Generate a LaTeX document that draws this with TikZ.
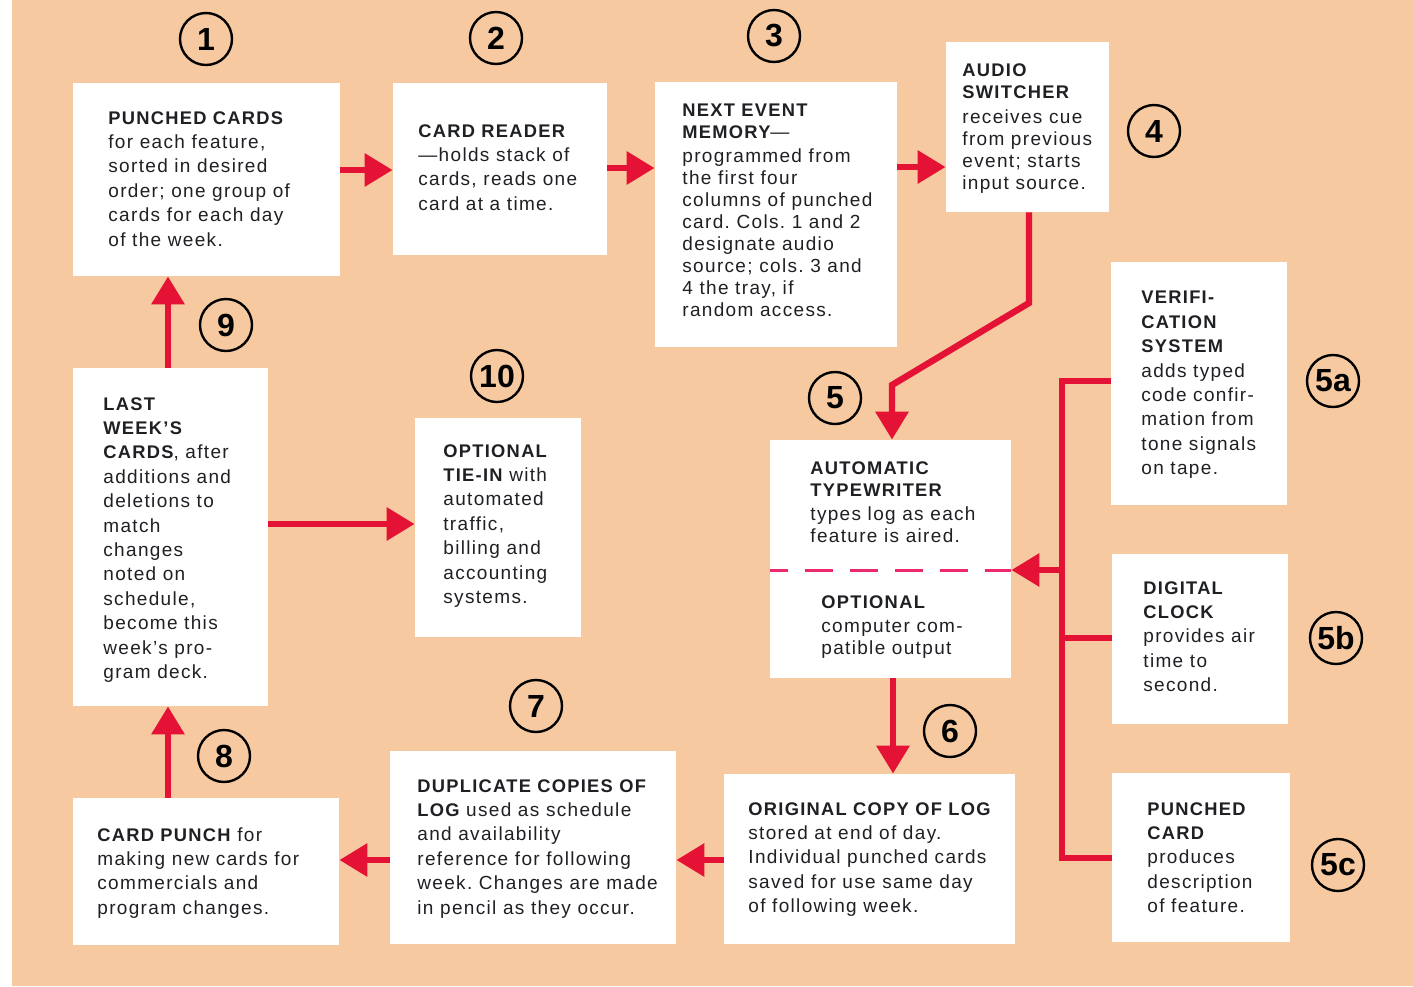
\documentclass[tikz,border=0pt]{standalone}
\usepackage{fontspec}
\setmainfont{Liberation Sans}[LetterSpace=7]
\newfontfamily\numfont{Liberation Sans}
\usetikzlibrary{arrows.meta,fit}
\definecolor{peach}{RGB}{247,201,160}
\definecolor{redarrow}{RGB}{228,18,52}
\definecolor{ink}{RGB}{30,32,36}
\definecolor{dashpink}{RGB}{236,40,110}
\newcommand\hdg[1]{{\fontsize{9.15}{0}\bfseries #1}}
\begin{document}
\frenchspacing
\begin{tikzpicture}[x=0.5pt,y=-0.5pt,
 box/.style={fill=white, draw=none, inner sep=0pt},
 txt/.style={anchor=north west, inner sep=0pt, align=left, text=ink, font=\fontsize{9.5}{12.2}\selectfont\frenchspacing},
 tight/.style={font=\fontsize{9.5}{11}\selectfont\frenchspacing},
 num/.style={circle, draw=black, line width=1.2pt, minimum size=26pt, inner sep=0pt, text=black, font=\numfont\bfseries\fontsize{16}{16}\selectfont},
 rline/.style={draw=redarrow, line width=3.2pt},
 rarrow/.style={rline, -{Triangle[length=14pt,width=16pt]}},
]
\useasboundingbox (0,0) rectangle (1413,986);
\fill[white] (0,0) rectangle (1413,986);
\fill[peach] (12,0) rectangle (1413,986);

% boxes
\node[box, fit={(73,83) (340,276)}] (b1) {};
\node[box, fit={(393,83) (607,255)}] (b2) {};
\node[box, fit={(655,82) (897,347)}] (b3) {};
\node[box, fit={(946,42) (1109,212)}] (b4) {};
\node[box, fit={(1111,262) (1287,505)}] (b5a) {};
\node[box, fit={(770,440) (1011,678)}] (b5) {};
\node[box, fit={(1112,554) (1288,724)}] (b5b) {};
\node[box, fit={(1112,773) (1290,942)}] (b5c) {};
\node[box, fit={(415,418) (581,637)}] (b10) {};
\node[box, fit={(73,368) (268,706)}] (b9) {};
\node[box, fit={(73,798) (339,945)}] (b8) {};
\node[box, fit={(390,751) (676,944)}] (b7) {};
\node[box, fit={(724,774) (1015,944)}] (b6) {};

% dashed divider in box 5
\draw[dashpink, line width=1.5pt, dash pattern=on 14pt off 8.5pt, dash phase=5pt] (b5.west |- 0,570) -- (b5.east |- 0,570);

% texts
\node[txt] (t1) at (108,111) {\hdg{PUNCHED CARDS}\\for each feature,\\sorted in desired\\order; one group of\\cards for each day\\of the week.};
\node[txt] (t2) at (418,124) {\hdg{CARD READER}\\—holds stack of\\cards, reads one\\card at a time.};
\node[txt, tight] (t3) at (682,104) {\hdg{NEXT EVENT}\\\hdg{MEMORY}—\\[1pt]programmed from\\the first four\\columns of punched\\card. Cols. 1 and 2\\designate audio\\source; cols. 3 and\\4 the tray, if\\random access.};
\node[txt, tight] (t4) at (962,63) {\hdg{AUDIO}\\\hdg{SWITCHER}\\[1.5pt]receives cue\\from previous\\event; starts\\input source.};
\node[txt] (t5a) at (1141,291) {\hdg{VERIFI-}\\\hdg{CATION}\\\hdg{SYSTEM}\\adds typed\\code confir-\\mation from\\tone signals\\on tape.};
\node[txt, tight] (t5) at (810,461) {\hdg{AUTOMATIC}\\\hdg{TYPEWRITER}\\[1pt]types log as each\\feature is aired.};
\node[txt, tight] (t5o) at (821,595) {\hdg{OPTIONAL}\\[1pt]computer com-\\patible output};
\node[txt] (t5b) at (1143,581) {\hdg{DIGITAL}\\\hdg{CLOCK}\\provides air\\time to\\second.};
\node[txt] (t5c) at (1147,802) {\hdg{PUNCHED}\\\hdg{CARD}\\produces\\description\\of feature.};
\node[txt] (t10) at (443,444) {\hdg{OPTIONAL}\\\hdg{TIE-IN} with\\automated\\traffic,\\billing and\\accounting\\systems.};
\node[txt] (t9) at (103,397) {\hdg{LAST}\\\hdg{WEEK’S}\\\hdg{CARDS}, after\\additions and\\deletions to\\match\\changes\\noted on\\schedule,\\become this\\week’s pro-\\gram deck.};
\node[txt] (t8) at (97,827) {\hdg{CARD PUNCH} for\\making new cards for\\commercials and\\program changes.};
\node[txt] (t7) at (417,779) {\hdg{DUPLICATE COPIES OF}\\\hdg{LOG} used as schedule\\and availability\\reference for following\\week. Changes are made\\in pencil as they occur.};
\node[txt] (t6) at (748,802) {\hdg{ORIGINAL COPY OF LOG}\\stored at end of day.\\Individual punched cards\\saved for use same day\\of following week.};

% number circles
\node[num] (n1) at (206,39) {1};
\node[num] (n2) at (496,38) {2};
\node[num] (n3) at (774,36) {3};
\node[num] (n4) at (1154,131) {4};
\node[num] (n5) at (835,398) {5};
\node[num] (n5a) at (1333,381) {5a};
\node[num] (n5b) at (1336,638) {5b};
\node[num] (n5c) at (1338,865) {5c};
\node[num] (n6) at (950,731) {6};
\node[num] (n7) at (536,706) {7};
\node[num] (n8) at (224,756) {8};
\node[num] (n9) at (226,325) {9};
\node[num] (n10) at (497,376) {10};

% connectors
\draw[rarrow] (b1.east |- 0,170) -- (b2.west |- 0,170);
\draw[rarrow] (b2.east |- 0,168) -- (b3.west |- 0,168);
\draw[rarrow] (b3.east |- 0,167) -- (b4.west |- 0,167);
\coordinate (k1) at (1029,303);
\coordinate (k2) at (892,385);
\draw[rarrow] (b4.south -| k1) -- (k1) -- (k2) -- (b5.north -| k2);
\coordinate (busT) at (1062,381);
\coordinate (busM) at (1062,638);
\coordinate (busB) at (1062,858);
\coordinate (busA) at (1062,570);
\draw[rline] (b5a.west |- busT) -- (busT) -- (busB) -- (b5c.west |- busB);
\draw[rline] (busM) -- (b5b.west |- busM);
\draw[rarrow] (busA) -- (b5.east |- busA);
\draw[rarrow] (b5.south -| 893,0) -- (b6.north -| 893,0);
\draw[rarrow] (b6.west |- 0,860) -- (b7.east |- 0,860);
\draw[rarrow] (b7.west |- 0,860) -- (b8.east |- 0,860);
\draw[rarrow] (b8.north -| 168,0) -- (b9.south -| 168,0);
\draw[rarrow] (b9.north -| 168,0) -- (b1.south -| 168,0);
\draw[rarrow] (b9.east |- 0,524) -- (b10.west |- 0,524);
\end{tikzpicture}
\end{document}
